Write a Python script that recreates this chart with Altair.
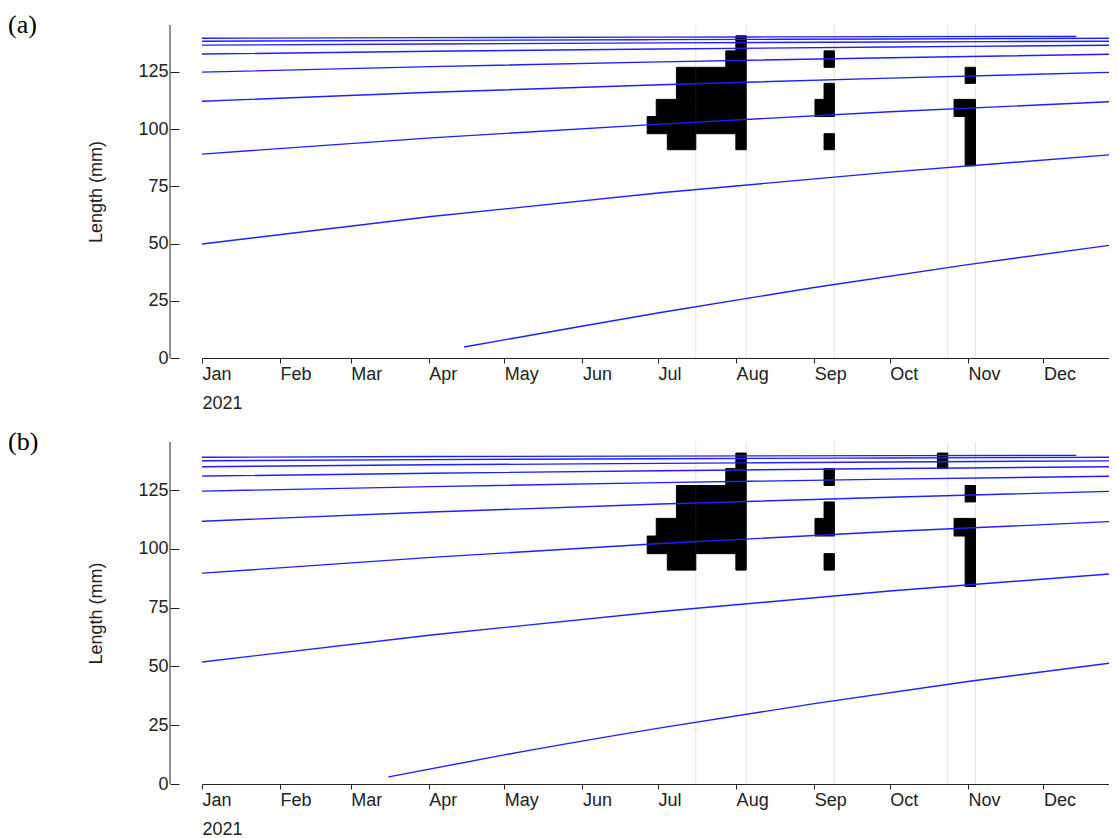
import altair as alt
import pandas as pd

# ---------------- data ----------------
MONTH_TICKS = [1, 2, 3, 4, 5, 6, 7, 8, 9, 10, 11, 12]

SAMPLE_DATES = ["2021-07-16", "2021-08-05", "2021-09-09", "2021-10-24", "2021-11-04"]

# length-bin edges (mm)
BIN_EDGES = [84.0, 91.0, 98.0, 105.5, 113.0, 120.0, 127.0, 134.2, 140.8]

# black bars: sample date, bin index, bar length (days, drawn leftwards from the date)
BAR_DATE_A = ["2021-07-16", "2021-07-16", "2021-07-16", "2021-07-16", "2021-07-16",
              "2021-08-05", "2021-08-05", "2021-08-05", "2021-08-05", "2021-08-05", "2021-08-05", "2021-08-05",
              "2021-09-09", "2021-09-09", "2021-09-09", "2021-09-09",
              "2021-11-04", "2021-11-04", "2021-11-04", "2021-11-04", "2021-11-04"]
BAR_BIN_A = [1, 2, 3, 4, 5,
             1, 2, 3, 4, 5, 6, 7,
             1, 3, 4, 6,
             0, 1, 2, 3, 5]
BAR_DAYS_A = [11.3, 19.3, 15.7, 7.7, 7.7,
              4.1, 19.7, 19.7, 19.7, 19.7, 8.1, 4.1,
              4.1, 7.7, 4.1, 4.1,
              4.1, 4.1, 4.1, 8.5, 4.1]

BAR_DATE_B = BAR_DATE_A + ["2021-10-24"]
BAR_BIN_B = BAR_BIN_A + [7]
BAR_DAYS_B = BAR_DAYS_A + [4.1]

# growth curves (mm) read at these dates
CURVE_DATES = ["2021-01-01", "2021-04-02", "2021-07-02", "2021-10-01", "2021-12-31"]
TOP_DATES = ["2021-01-01", "2021-04-02", "2021-07-02", "2021-10-01", "2021-12-14"]

A_COHORTS = [
    [49.8, 61.8, 72.2, 81.2, 89.1],
    [89.1, 96.2, 102.2, 107.6, 112.2],
    [112.2, 116.1, 119.4, 122.3, 124.9],
    [124.9, 127.3, 129.4, 131.2, 132.8],
    [132.8, 134.0, 135.0, 135.9, 136.7],
    [136.7, 137.2, 137.7, 138.1, 138.4],
    [138.4, 138.8, 139.1, 139.4, 139.7],
]
A_TOP = [139.7, 140.0, 140.2, 140.4, 140.5]
A_YOUNG_DATES = ["2021-04-15", "2021-05-21", "2021-07-02", "2021-09-01", "2021-11-01", "2021-12-31"]
A_YOUNG = [4.8, 11.8, 19.9, 30.8, 40.8, 49.8]

B_COHORTS = [
    [51.9, 63.4, 73.4, 82.1, 89.7],
    [89.7, 96.4, 102.3, 107.4, 111.8],
    [111.8, 115.7, 119.1, 122.0, 124.6],
    [124.6, 126.5, 128.2, 129.7, 131.0],
    [131.0, 132.2, 133.3, 134.2, 135.0],
    [135.0, 135.8, 136.4, 137.0, 137.5],
    [137.5, 138.0, 138.4, 138.7, 139.0],
]
B_TOP = [139.0, 139.3, 139.5, 139.7, 139.8]
B_YOUNG_DATES = ["2021-03-16", "2021-05-01", "2021-07-02", "2021-09-01", "2021-11-01", "2021-12-31"]
B_YOUNG = [3.0, 12.4, 23.9, 34.2, 43.6, 51.9]

Y_TICKS = [0, 25, 50, 75, 100, 125]


# ---------------- build tables ----------------
def iso(ts):
    return pd.Timestamp(ts).strftime("%Y-%m-%dT%H:%M:%SZ")


def bars_table(dates, bins, days):
    rows = []
    for d, b, w in zip(dates, bins, days):
        t = pd.Timestamp(d)
        rows.append({"left": iso(t - pd.Timedelta(days=w)), "date": iso(t),
                     "lo": BIN_EDGES[b], "hi": BIN_EDGES[b + 1]})
    return pd.DataFrame(rows)


def lines_table(cohorts, top, ydates, young):
    rows = []
    for i, vals in enumerate(cohorts):
        for d, v in zip(CURVE_DATES, vals):
            rows.append({"cohort": f"c{i}", "date": iso(d), "length": v})
    for d, v in zip(TOP_DATES, top):
        rows.append({"cohort": "top", "date": iso(d), "length": v})
    for d, v in zip(ydates, young):
        rows.append({"cohort": "young", "date": iso(d), "length": v})
    return pd.DataFrame(rows)


grid_df = pd.DataFrame({"date": [iso(d) for d in SAMPLE_DATES]})

FONT = "Liberation Sans"
INK = "#222222"
W = 907

XSCALE = alt.Scale(type="utc", nice=False,
                   domain=[alt.DateTime(year=2021, month=1, date=1, utc=True),
                           alt.DateTime(year=2021, month=12, date=27, utc=True)])
XAXIS = alt.Axis(
    values=[alt.DateTime(year=2021, month=m, date=1, utc=True) for m in MONTH_TICKS],
    format="%b",
    labelExpr="utcmonth(datum.value) == 0 ? [datum.label, '2021'] : datum.label",
    labelAlign="left", labelBaseline="top", labelPadding=2, labelLineHeight=29,
    labelFont=FONT, labelFontSize=18, labelColor=INK,
    labelOverlap=False, labelFlush=False, labelBound=False,
    tickSize=5, tickColor=INK, domainColor=INK, grid=False, title=None,
)
YSCALE = alt.Scale(domain=[0, 145.5], nice=False, zero=False)
YAXIS = alt.Axis(
    values=Y_TICKS, domain=False, offset=23, tickSize=9, tickColor=INK,
    labelFont=FONT, labelFontSize=18, labelColor=INK, labelPadding=2,
    title="Length (mm)", titleFont=FONT, titleFontSize=18, titleFontWeight="normal",
    titleColor=INK, titlePadding=32, grid=False,
)


def panel(tag, bars, lines, H):
    grid = alt.Chart(grid_df).mark_rule(color="#e6e6e6", strokeWidth=1).encode(
        x=alt.X("date:T", scale=XSCALE, axis=XAXIS),
        y=alt.value(0), y2=alt.value(H),
    )
    rects = alt.Chart(bars).mark_rect(color="black", stroke="black", strokeWidth=1).encode(
        x=alt.X("left:T", scale=XSCALE, axis=XAXIS), x2="date:T",
        y=alt.Y("lo:Q", scale=YSCALE, axis=YAXIS), y2="hi:Q",
    )
    curves = alt.Chart(lines).mark_line(color="#1f1fff", strokeWidth=1.4,
                                         interpolate="monotone", clip=True).encode(
        x=alt.X("date:T", scale=XSCALE, axis=XAXIS),
        y=alt.Y("length:Q", scale=YSCALE, axis=YAXIS),
        detail="cohort:N",
    )
    one = pd.DataFrame({"t": [tag]})
    yline = alt.Chart(one).mark_rule(color=INK, strokeWidth=1).encode(
        x=alt.value(-32), y=alt.value(0), y2=alt.value(H),
    )
    label = alt.Chart(one).mark_text(font="Liberation Serif", fontSize=26,
                                     align="left", baseline="alphabetic",
                                     color="black").encode(
        x=alt.value(-194), y=alt.value(8), text="t:N",
    )
    return alt.layer(grid, rects, curves, yline, label).properties(width=W, height=H)


pa = panel("(a)", bars_table(BAR_DATE_A, BAR_BIN_A, BAR_DAYS_A),
           lines_table(A_COHORTS, A_TOP, A_YOUNG_DATES, A_YOUNG), 333)
pb = panel("(b)", bars_table(BAR_DATE_B, BAR_BIN_B, BAR_DAYS_B),
           lines_table(B_COHORTS, B_TOP, B_YOUNG_DATES, B_YOUNG), 342)

chart = alt.vconcat(pa, pb, spacing=17).properties(
    padding={"left": 0, "top": 4, "right": 0, "bottom": 0},
    background="white",
).configure_view(stroke=None)

chart.save("out.html", embed_options={"renderer": "svg", "actions": False})
